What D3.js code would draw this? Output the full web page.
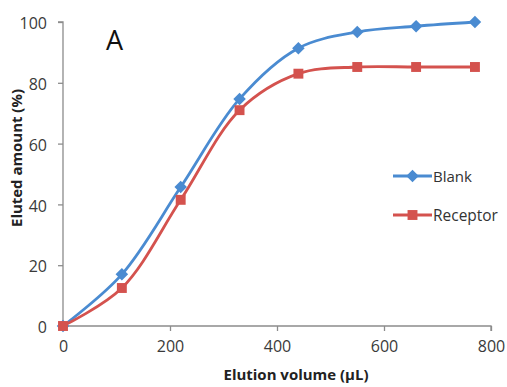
<!DOCTYPE html>
<html>
<head>
<meta charset="utf-8">
<script src="https://cdn.jsdelivr.net/npm/d3@7"></script>
<style>
  body { margin: 0; background: #fff; }
  text { font-family: "Open Sans", Lato, sans-serif; }
</style>
</head>
<body>
<div id="container"></div>
<script>
// data
const volumes = [0, 110, 220, 330, 440, 550, 660, 770];
const blank = [0, 17, 45.7, 74.7, 91.4, 96.7, 98.6, 100];
const receptor = [0, 12.5, 41.5, 71, 83, 85.2, 85.2, 85.2];
const xTicks = [0, 200, 400, 600, 800];
const yTicks = [0, 20, 40, 60, 80, 100];
const seriesNames = ['Blank', 'Receptor'];
const seriesColors = ['#4A8BD1', '#D4524E'];

const W = 507, H = 387;
const svg = d3.select('#container').append('svg')
    .attr('width', W).attr('height', H);

const x = d3.scaleLinear().domain([0, 800]).range([63, 491]);
const y = d3.scaleLinear().domain([0, 100]).range([326, 22]);

// shrink/grow a text so it takes the width seen in the reference
function fitText(sel, target) {
    const fs = parseFloat(sel.style('font-size'));
    const len = sel.node().getComputedTextLength();
    sel.style('font-size', (fs * target / len).toFixed(2) + 'px');
}

// y axis
const yAxis = svg.append('g')
    .attr('transform', `translate(${x(0)},0)`)
    .call(d3.axisLeft(y).tickValues(yTicks).tickSize(5).tickPadding(11));
// x axis
const xAxis = svg.append('g')
    .attr('transform', `translate(0,${y(0)})`)
    .call(d3.axisBottom(x).tickValues(xTicks).tickSize(5).tickPadding(10));

[yAxis, xAxis].forEach(g => {
    g.select('.domain').attr('stroke', '#8c8c8c').attr('stroke-width', 1.3);
    g.selectAll('.tick line').attr('stroke', '#8c8c8c').attr('stroke-width', 1.3);
    g.selectAll('.tick text').attr('fill', '#3a3a3a')
        .style('font-family', '"Open Sans", sans-serif').style('font-size', '16px');
});
yAxis.selectAll('.tick text').attr('dy', '0.42em');
// excel-style axis lines
yAxis.select('.domain').attr('d', `M-5,${y(100)}H0V${y(0)}`);
xAxis.select('.domain').attr('d', `M${x(0)},0H${x(800)}V5`);

// axis titles
const yTitle = svg.append('text')
    .attr('transform', `translate(22,158) rotate(-90)`)
    .attr('text-anchor', 'middle')
    .style('font-size', '13px').style('font-weight', 'bold')
    .attr('fill', '#222')
    .text('Eluted amount (%)');
fitText(yTitle, 138);

const xTitle = svg.append('text')
    .attr('x', 296).attr('y', 380)
    .attr('text-anchor', 'middle')
    .style('font-size', '13px').style('font-weight', 'bold')
    .attr('fill', '#222')
    .text('Elution volume (µL)');
fitText(xTitle, 145);

// panel letter
svg.append('text')
    .attr('x', 106).attr('y', 50)
    .style('font-size', '27px')
    .attr('fill', '#111')
    .text('A');

const line = d3.line()
    .x((d, i) => x(volumes[i]))
    .y(d => y(d))
    .curve(d3.curveCatmullRom.alpha(0.5));

const diamond = d3.symbol().type(d3.symbolDiamond2).size(100);
const square = d3.symbol().type(d3.symbolSquare2).size(125);
const shapes = [diamond, square];

[blank, receptor].forEach((vals, k) => {
    svg.append('path')
        .datum(vals)
        .attr('d', line)
        .attr('fill', 'none')
        .attr('stroke', seriesColors[k])
        .attr('stroke-width', 2.8);
});

[blank, receptor].forEach((vals, k) => {
    svg.append('g').selectAll('path')
        .data(vals)
        .join('path')
        .attr('transform', (d, i) => `translate(${x(volumes[i])},${y(d)})`)
        .attr('d', shapes[k])
        .attr('fill', seriesColors[k]);
});

// legend
const legY = [176, 215];
const legW = [39, 65];
seriesNames.forEach((name, k) => {
    const g = svg.append('g').attr('transform', `translate(393,${legY[k]})`);
    g.append('line')
        .attr('x1', 0).attr('x2', 39)
        .attr('stroke', seriesColors[k]).attr('stroke-width', 2.8);
    g.append('path')
        .attr('transform', 'translate(19.5,0)')
        .attr('d', shapes[k])
        .attr('fill', seriesColors[k]);
    const t = g.append('text')
        .attr('x', 40).attr('y', 5.5)
        .style('font-size', '14px')
        .attr('fill', '#333')
        .text(name);
    fitText(t, legW[k]);
});
</script>
</body>
</html>
